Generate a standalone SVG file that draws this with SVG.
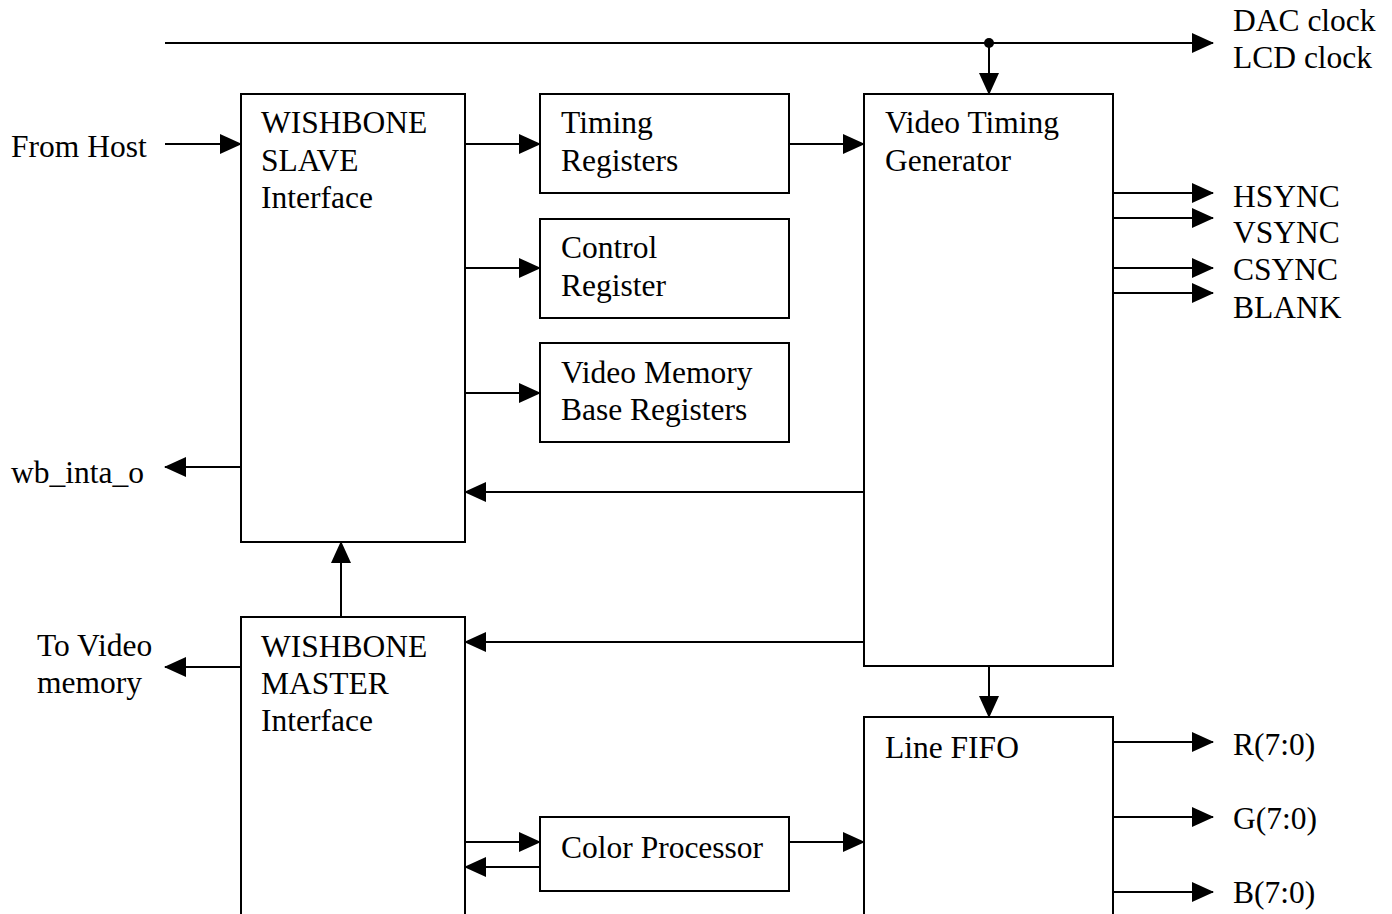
<svg xmlns="http://www.w3.org/2000/svg" width="1392" height="914" viewBox="0 0 1392 914">
<style>
.box{fill:#fff;stroke:#000;stroke-width:2}
.ln{fill:none;stroke:#000;stroke-width:2}
text{font-family:"Liberation Serif","Times New Roman",serif;font-size:31.5px;fill:#000}
</style>
<defs>
<marker id="ah" markerUnits="userSpaceOnUse" markerWidth="22" markerHeight="20" refX="21" refY="10" orient="auto">
<path d="M0,0 L22,10 L0,20 Z" fill="#000"/>
</marker>
</defs>
<rect width="1392" height="914" fill="#fff"/>
<g id="connectors">
<path class="ln" d="M165,43 H1213" marker-end="url(#ah)"/>
<circle cx="989" cy="43" r="5" fill="#000"/>
<path class="ln" d="M989,43 V94" marker-end="url(#ah)"/>
<path class="ln" d="M165,144 H241" marker-end="url(#ah)"/>
<path class="ln" d="M465,144 H540" marker-end="url(#ah)"/>
<path class="ln" d="M789,144 H864" marker-end="url(#ah)"/>
<path class="ln" d="M465,268 H540" marker-end="url(#ah)"/>
<path class="ln" d="M465,393 H540" marker-end="url(#ah)"/>
<path class="ln" d="M241,467 H165" marker-end="url(#ah)"/>
<path class="ln" d="M864,492 H465" marker-end="url(#ah)"/>
<path class="ln" d="M341,617 V542" marker-end="url(#ah)"/>
<path class="ln" d="M864,642 H465" marker-end="url(#ah)"/>
<path class="ln" d="M241,667 H165" marker-end="url(#ah)"/>
<path class="ln" d="M989,666 V717" marker-end="url(#ah)"/>
<path class="ln" d="M465,842 H540" marker-end="url(#ah)"/>
<path class="ln" d="M540,867 H465" marker-end="url(#ah)"/>
<path class="ln" d="M789,842 H864" marker-end="url(#ah)"/>
<path class="ln" d="M1113,193 H1213" marker-end="url(#ah)"/>
<path class="ln" d="M1113,218 H1213" marker-end="url(#ah)"/>
<path class="ln" d="M1113,268 H1213" marker-end="url(#ah)"/>
<path class="ln" d="M1113,293 H1213" marker-end="url(#ah)"/>
<path class="ln" d="M1113,742 H1213" marker-end="url(#ah)"/>
<path class="ln" d="M1113,817 H1213" marker-end="url(#ah)"/>
<path class="ln" d="M1113,892 H1213" marker-end="url(#ah)"/>
</g>
<g id="wb_slave">
<rect class="box" x="241" y="94" width="224" height="448"/>
<text x="261" y="133">WISHBONE</text>
<text x="261" y="171">SLAVE</text>
<text x="261" y="208">Interface</text>
</g>
<g id="timing_registers">
<rect class="box" x="540" y="94" width="249" height="99"/>
<text x="561" y="133">Timing</text>
<text x="561" y="171">Registers</text>
</g>
<g id="control_register">
<rect class="box" x="540" y="219" width="249" height="99"/>
<text x="561" y="258">Control</text>
<text x="561" y="296">Register</text>
</g>
<g id="vmbr">
<rect class="box" x="540" y="343" width="249" height="99"/>
<text x="561" y="383">Video Memory</text>
<text x="561" y="420">Base Registers</text>
</g>
<g id="vtg">
<rect class="box" x="864" y="94" width="249" height="572"/>
<text x="885" y="133">Video Timing</text>
<text x="885" y="171">Generator</text>
</g>
<g id="wb_master">
<rect class="box" x="241" y="617" width="224" height="310"/>
<text x="261" y="657">WISHBONE</text>
<text x="261" y="694">MASTER</text>
<text x="261" y="731">Interface</text>
</g>
<g id="color_processor">
<rect class="box" x="540" y="817" width="249" height="74"/>
<text x="561" y="858">Color Processor</text>
</g>
<g id="line_fifo">
<rect class="box" x="864" y="717" width="249" height="210"/>
<text x="885" y="758">Line FIFO</text>
</g>
<g id="labels">
<text x="11" y="157">From Host</text>
<text x="11" y="483">wb_inta_o</text>
<text x="37" y="656">To Video</text>
<text x="37" y="693">memory</text>
<text x="1233" y="31">DAC clock</text>
<text x="1233" y="68">LCD clock</text>
<text x="1233" y="207">HSYNC</text>
<text x="1233" y="243">VSYNC</text>
<text x="1233" y="280">CSYNC</text>
<text x="1233" y="318">BLANK</text>
<text x="1233" y="755">R(7:0)</text>
<text x="1233" y="829">G(7:0)</text>
<text x="1233" y="903">B(7:0)</text>
</g>
</svg>
